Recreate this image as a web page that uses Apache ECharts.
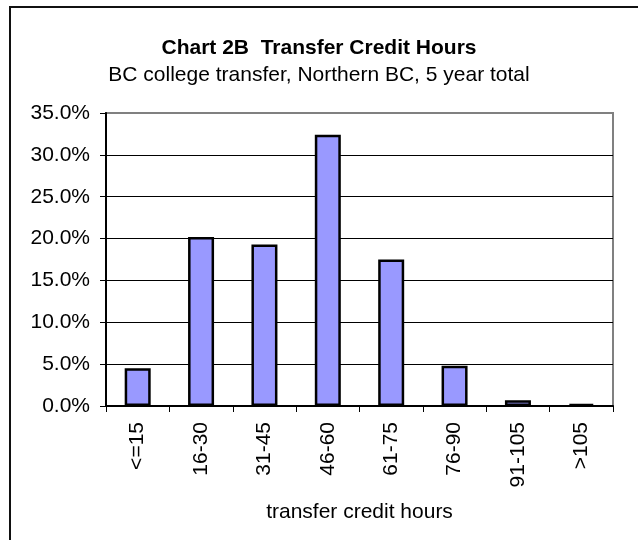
<!DOCTYPE html>
<html>
<head>
<meta charset="utf-8" />
<title>Chart 2B Transfer Credit Hours</title>
<script src="https://cdn.jsdelivr.net/npm/echarts@6/dist/echarts.min.js"></script>
<style>
  html, body { margin: 0; padding: 0; background: #fff; }
  #myChart { width: 638px; height: 540px; }
</style>
</head>
<body>
<div id="myChart"></div>
<script>
// chart data
const categories = ["<=15", "16-30", "31-45", "46-60", "61-75", "76-90", "91-105", ">105"];
const shareValues = [4.5, 20.2, 19.3, 32.4, 17.5, 4.8, 0.7, 0.25];
const yTicks = [0, 5, 10, 15, 20, 25, 30, 35];

const titleText = "Chart 2B  Transfer Credit Hours";
const subTitleText = "BC college transfer, Northern BC, 5 year total";
const xAxisName = "transfer credit hours";

const fontFamily = "'Liberation Sans', Arial, sans-serif";

const myChart = echarts.init(document.getElementById("myChart"));

// gridline colours: black inside, grey on the top (plot border)
const splitColors = yTicks.map((v, i) => (i === yTicks.length - 1 ? "#808080" : "#000000"));

const options = {
  animation: false,
  backgroundColor: "#ffffff",
  textStyle: { fontFamily: fontFamily },
  title: [
    {
      text: titleText,
      left: "center",
      top: 38,
      padding: [0, 0, 0, 10],
      textStyle: {
        fontFamily: fontFamily,
        fontSize: 21,
        fontWeight: "bold",
        color: "#000",
      },
    },
    {
      text: subTitleText,
      left: "center",
      top: 65,
      padding: [0, 0, 0, 8],
      textStyle: {
        fontFamily: fontFamily,
        fontSize: 21,
        fontWeight: "normal",
        color: "#000",
      },
    },
  ],
  // outer chart frame (left and top edges visible)
  graphic: [
    {
      type: "rect",
      shape: { x: 10, y: 7, width: 660, height: 560 },
      style: { fill: "none", stroke: "#111", lineWidth: 2 },
      silent: true,
    },
  ],
  grid: {
    left: 106,
    right: 25,
    top: 113,
    bottom: 134,
    show: true,
    borderColor: "#808080",
    borderWidth: 2,
    backgroundColor: "#ffffff",
  },
  xAxis: {
    type: "category",
    data: categories,
    name: xAxisName,
    nameLocation: "middle",
    nameGap: 96,
    nameTextStyle: { fontFamily: fontFamily, fontSize: 21, color: "#000" },
    axisLine: { show: true, lineStyle: { color: "#000", width: 2 } },
    axisTick: { show: true, length: 6, lineStyle: { color: "#000", width: 1 } },
    axisLabel: {
      rotate: 90,
      interval: 0,
      margin: 16,
      fontFamily: fontFamily,
      fontSize: 21,
      color: "#000",
    },
    splitLine: { show: false },
  },
  yAxis: {
    type: "value",
    min: 0,
    max: 35,
    interval: 5,
    axisLine: { show: true, lineStyle: { color: "#000", width: 2 } },
    axisTick: { show: true, length: 6, lineStyle: { color: "#000", width: 1 } },
    axisLabel: {
      margin: 16,
      fontFamily: fontFamily,
      fontSize: 21,
      color: "#000",
      formatter: (val) => `${Number(val).toFixed(1)}%`,
    },
    splitLine: {
      show: true,
      lineStyle: { color: splitColors, width: 1 },
    },
  },
  series: [
    {
      type: "bar",
      data: shareValues,
      barWidth: 26,
      itemStyle: {
        color: "#9999FF",
        borderColor: "#000",
        borderWidth: 2.5,
      },
    },
  ],
};

myChart.setOption(options);
</script>
</body>
</html>
